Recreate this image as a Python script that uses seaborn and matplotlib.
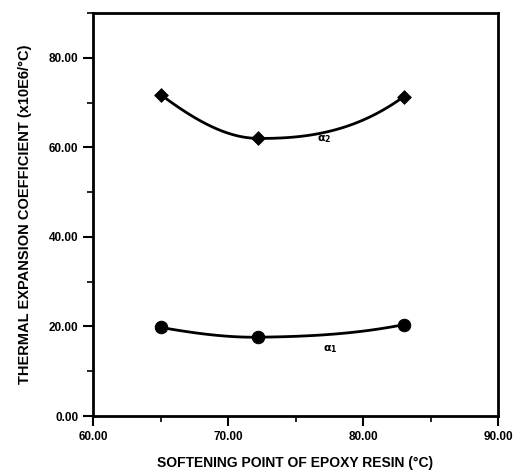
import numpy as np
import matplotlib
matplotlib.use("Agg")
import matplotlib.pyplot as plt
import seaborn as sns
from matplotlib.ticker import MultipleLocator, FormatStrFormatter

softening_point = [65.0, 72.2, 83.0]
alpha1 = [19.8, 17.6, 20.4]
alpha2 = [71.8, 62.0, 71.3]

sns.set_theme(style="white")
plt.rcParams['font.family'] = ['Liberation Sans', 'DejaVu Sans']
plt.rcParams['font.weight'] = 'bold'
plt.rcParams['text.color'] = 'black'
plt.rcParams['axes.labelcolor'] = 'black'
plt.rcParams['xtick.color'] = 'black'
plt.rcParams['ytick.color'] = 'black'


def hermite_curve(x, y, n=60):
    x = np.asarray(x, float); y = np.asarray(y, float)
    dq = np.polyder(np.polyfit(x, y, 2))
    m = np.zeros_like(y)
    m[0] = np.polyval(dq, x[0])
    m[-1] = np.polyval(dq, x[-1])
    for i in range(1, len(x) - 1):
        m[i] = (y[i + 1] - y[i - 1]) / (x[i + 1] - x[i - 1])
    xs, ys = [], []
    for i in range(len(x) - 1):
        h = x[i + 1] - x[i]
        t = np.linspace(0, 1, n)
        h00 = 2*t**3 - 3*t**2 + 1
        h10 = t**3 - 2*t**2 + t
        h01 = -2*t**3 + 3*t**2
        h11 = t**3 - t**2
        xs.append(x[i] + t*h)
        ys.append(h00*y[i] + h10*h*m[i] + h01*y[i+1] + h11*h*m[i+1])
    return np.concatenate(xs), np.concatenate(ys)


fig = plt.figure(figsize=(5.14, 4.73), dpi=100)
ax = fig.add_axes([0.181, 0.1205, 0.788, 0.852])

for vals, mk, ms in [(alpha2, 'D', 7), (alpha1, 'o', 9)]:
    xs, ys = hermite_curve(softening_point, vals)
    sns.lineplot(x=xs, y=ys, ax=ax, color='black', lw=2, sort=False)
    sns.scatterplot(x=softening_point, y=vals, ax=ax, color='black', marker=mk,
                    s=ms**2, edgecolor='black', zorder=5)

ax.text(77.1, 61.8, r'$\mathrm{\alpha}_{\mathrm{2}}$', fontsize=8, ha='center', va='center')
ax.text(77.6, 14.9, r'$\mathrm{\alpha}_{\mathrm{1}}$', fontsize=8, ha='center', va='center')

ax.set_xlim(60, 90)
ax.set_ylim(0, 90)
ax.xaxis.set_major_locator(MultipleLocator(10))
ax.xaxis.set_minor_locator(MultipleLocator(5))
ax.yaxis.set_major_locator(MultipleLocator(20))
ax.yaxis.set_minor_locator(MultipleLocator(10))
ax.xaxis.set_major_formatter(FormatStrFormatter('%.2f'))
ax.yaxis.set_major_formatter(FormatStrFormatter('%.2f'))
ax.tick_params(axis='both', which='major', direction='out', length=7, width=1.5,
               labelsize=8.5, bottom=True, left=True, color='black', labelcolor='black')
ax.tick_params(axis='both', which='minor', direction='out', length=4, width=1.2,
               bottom=True, left=True, color='black')
for lab in ax.get_xticklabels() + ax.get_yticklabels():
    lab.set_fontweight('bold')
for s in ax.spines.values():
    s.set_visible(True)
    s.set_color('black')
    s.set_linewidth(2)

ax.set_xlabel('SOFTENING POINT OF EPOXY RESIN (°C)', fontsize=10, fontweight='bold',
              labelpad=10, color='black')
ax.set_ylabel('THERMAL EXPANSION COEFFICIENT (x10E6/°C)', fontsize=10.5, fontweight='bold',
              labelpad=12, color='black')

fig.savefig('out.png', dpi=100)
